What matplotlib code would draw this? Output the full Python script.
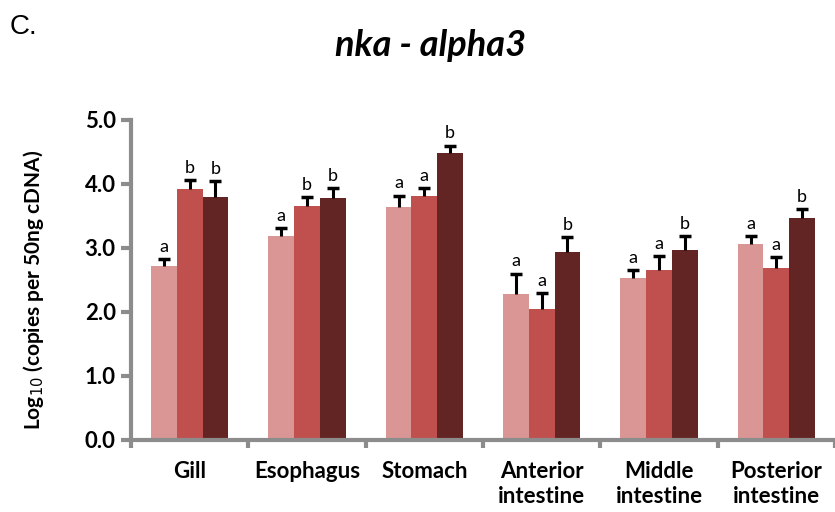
import numpy as np
import matplotlib
matplotlib.use("Agg")
import matplotlib.pyplot as plt

# tissues and log10 copy numbers
tissues = ["Gill", "Esophagus", "Stomach", "Anterior\nintestine",
           "Middle\nintestine", "Posterior\nintestine"]
group1 = [2.72, 3.19, 3.64, 2.28, 2.53, 3.07]
group2 = [3.92, 3.66, 3.82, 2.04, 2.65, 2.69]
group3 = [3.80, 3.78, 4.48, 2.93, 2.97, 3.47]
err1 = [0.11, 0.12, 0.18, 0.32, 0.13, 0.11]
err2 = [0.14, 0.13, 0.12, 0.25, 0.23, 0.17]
err3 = [0.24, 0.16, 0.12, 0.24, 0.22, 0.14]
letters1 = ["a", "a", "a", "a", "a", "a"]
letters2 = ["b", "b", "a", "a", "a", "a"]
letters3 = ["b", "b", "b", "b", "b", "b"]

colors = ["#D99694", "#C0504D", "#632523"]
plt.rcParams['font.family'] = ["Lato", "DejaVu Sans"]

fig = plt.figure(figsize=(8.35, 5.12), dpi=100)
ax = fig.add_axes([131 / 835, 72 / 512, 1 - 131 / 835, 320 / 512])

x = np.arange(len(tissues))
w = 0.22
series = [(group1, err1, letters1), (group2, err2, letters2), (group3, err3, letters3)]
for k, (vals, errs, labs) in enumerate(series):
    pos = x + (k - 1) * w
    vals = np.array(vals)
    errs = np.array(errs)
    ax.bar(pos, vals, width=w, color=colors[k], edgecolor="none", zorder=2)
    # upper-only error bars: stem plus a single cap on top
    ax.vlines(pos, vals, vals + errs, color="black", linewidth=2.2, zorder=3)
    ax.plot(pos, vals + errs, linestyle="none", marker="_", markersize=9,
            markeredgewidth=2.5, color="black", zorder=3)
    for p, top, lab in zip(pos, vals + errs, labs):
        ax.annotate(lab, (p, top), xytext=(0, 3), textcoords="offset points",
                    ha="center", va="bottom", fontsize=13, color="black")

ax.set_ylim(0, 5)
ax.set_xlim(-0.5, -0.5 + (835 - 131) / 118.2)
ax.set_yticks(np.arange(0, 5.1, 1.0))
ax.set_yticklabels([f"{v:.1f}" for v in np.arange(0, 5.1, 1.0)],
                   fontsize=16, fontweight="bold")
ax.set_xticks(np.arange(-0.5, len(tissues), 1.0))
ax.set_xticklabels([])
ax.set_xticks(x, minor=True)
ax.set_xticklabels(tissues, minor=True, fontsize=16, fontweight="bold",
                   linespacing=1.25)
ax.tick_params(axis="x", which="minor", length=0, pad=15)
ax.tick_params(axis="x", which="major", length=6, width=3, color="#8C8C8C")
ax.tick_params(axis="y", length=7, width=3, color="#8C8C8C", pad=4)

for side in ["top", "right"]:
    ax.spines[side].set_visible(False)
for side in ["left", "bottom"]:
    ax.spines[side].set_color("#8C8C8C")
    ax.spines[side].set_linewidth(3)

ax.set_ylabel("Log$_{10}$ (copies per 50ng cDNA)", fontsize=15,
              fontweight="bold")
ax.yaxis.set_label_coords((46 - 131) / 704, 0.47)

fig.text(431 / 835, 1 - 45 / 512, "nka - alpha3", ha="center", va="center",
         fontsize=26, fontweight="bold", fontstyle="italic")
fig.text(10 / 835, 1 - 27 / 512, "C.", ha="left", va="center", fontsize=20,
         family=["Liberation Sans", "DejaVu Sans"])

fig.savefig("out.png", dpi=100)
